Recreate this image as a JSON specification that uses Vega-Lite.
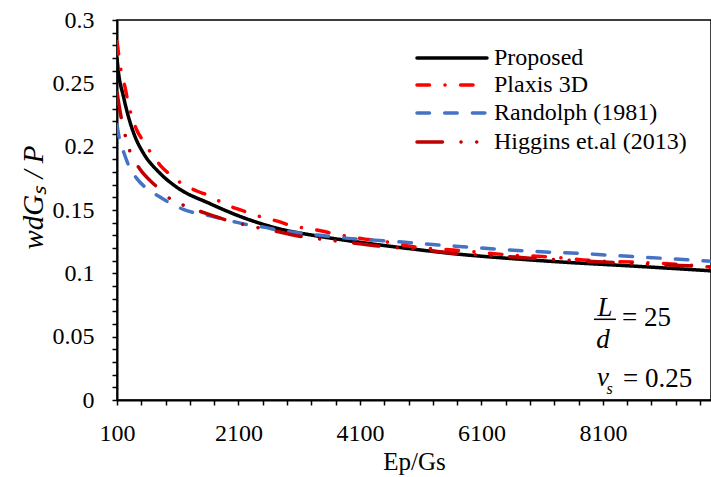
{
  "$schema": "https://vega.github.io/schema/vega-lite/v6.json",
  "width": 594,
  "height": 380,
  "autosize": "none",
  "padding": {"left": 117, "top": 20, "right": 0, "bottom": 77},
  "background": "white",
  "config": {
    "view": {"stroke": "black", "strokeWidth": 1.5}
  },
  "datasets": {
    "curves": [
      {"s": "Proposed", "x": 100, "y": 0.27},
      {"s": "Proposed", "x": 121, "y": 0.26},
      {"s": "Proposed", "x": 204, "y": 0.24},
      {"s": "Proposed", "x": 286, "y": 0.224},
      {"s": "Proposed", "x": 396, "y": 0.208},
      {"s": "Proposed", "x": 533, "y": 0.195},
      {"s": "Proposed", "x": 808, "y": 0.179},
      {"s": "Proposed", "x": 1083, "y": 0.168},
      {"s": "Proposed", "x": 1631, "y": 0.155},
      {"s": "Proposed", "x": 2235, "y": 0.143},
      {"s": "Proposed", "x": 2783, "y": 0.135},
      {"s": "Proposed", "x": 3331, "y": 0.13},
      {"s": "Proposed", "x": 4100, "y": 0.1245},
      {"s": "Proposed", "x": 5000, "y": 0.119},
      {"s": "Proposed", "x": 5746, "y": 0.115},
      {"s": "Proposed", "x": 6500, "y": 0.112},
      {"s": "Proposed", "x": 7391, "y": 0.109},
      {"s": "Proposed", "x": 8500, "y": 0.106},
      {"s": "Proposed", "x": 9880, "y": 0.102},
      {"s": "Plaxis 3D", "x": 100, "y": 0.283},
      {"s": "Plaxis 3D", "x": 166, "y": 0.26},
      {"s": "Plaxis 3D", "x": 232, "y": 0.247},
      {"s": "Plaxis 3D", "x": 286, "y": 0.234},
      {"s": "Plaxis 3D", "x": 330, "y": 0.226},
      {"s": "Plaxis 3D", "x": 413, "y": 0.2145},
      {"s": "Plaxis 3D", "x": 523, "y": 0.205},
      {"s": "Plaxis 3D", "x": 660, "y": 0.195},
      {"s": "Plaxis 3D", "x": 808, "y": 0.1855},
      {"s": "Plaxis 3D", "x": 972, "y": 0.178},
      {"s": "Plaxis 3D", "x": 1164, "y": 0.171},
      {"s": "Plaxis 3D", "x": 1412, "y": 0.165},
      {"s": "Plaxis 3D", "x": 1631, "y": 0.161},
      {"s": "Plaxis 3D", "x": 1823, "y": 0.156},
      {"s": "Plaxis 3D", "x": 2070, "y": 0.151},
      {"s": "Plaxis 3D", "x": 2261, "y": 0.148},
      {"s": "Plaxis 3D", "x": 2508, "y": 0.144},
      {"s": "Plaxis 3D", "x": 2755, "y": 0.141},
      {"s": "Plaxis 3D", "x": 2975, "y": 0.1376},
      {"s": "Plaxis 3D", "x": 3222, "y": 0.1355},
      {"s": "Plaxis 3D", "x": 3470, "y": 0.1334},
      {"s": "Plaxis 3D", "x": 3689, "y": 0.131},
      {"s": "Plaxis 3D", "x": 3936, "y": 0.129},
      {"s": "Plaxis 3D", "x": 4183, "y": 0.127},
      {"s": "Plaxis 3D", "x": 4402, "y": 0.1258},
      {"s": "Plaxis 3D", "x": 4978, "y": 0.121},
      {"s": "Plaxis 3D", "x": 5746, "y": 0.118},
      {"s": "Plaxis 3D", "x": 6569, "y": 0.1145},
      {"s": "Plaxis 3D", "x": 7277, "y": 0.1128},
      {"s": "Plaxis 3D", "x": 7940, "y": 0.110},
      {"s": "Plaxis 3D", "x": 8700, "y": 0.1087},
      {"s": "Plaxis 3D", "x": 9368, "y": 0.107},
      {"s": "Plaxis 3D", "x": 9880, "y": 0.105},
      {"s": "Randolph (1981)", "x": 100, "y": 0.217},
      {"s": "Randolph (1981)", "x": 138, "y": 0.2066},
      {"s": "Randolph (1981)", "x": 215, "y": 0.195},
      {"s": "Randolph (1981)", "x": 303, "y": 0.184},
      {"s": "Randolph (1981)", "x": 424, "y": 0.175},
      {"s": "Randolph (1981)", "x": 589, "y": 0.167},
      {"s": "Randolph (1981)", "x": 780, "y": 0.161},
      {"s": "Randolph (1981)", "x": 961, "y": 0.1558},
      {"s": "Randolph (1981)", "x": 1191, "y": 0.1505},
      {"s": "Randolph (1981)", "x": 1412, "y": 0.1474},
      {"s": "Randolph (1981)", "x": 1631, "y": 0.1455},
      {"s": "Randolph (1981)", "x": 1878, "y": 0.1426},
      {"s": "Randolph (1981)", "x": 2097, "y": 0.140},
      {"s": "Randolph (1981)", "x": 2289, "y": 0.138},
      {"s": "Randolph (1981)", "x": 2536, "y": 0.1363},
      {"s": "Randolph (1981)", "x": 2755, "y": 0.134},
      {"s": "Randolph (1981)", "x": 3000, "y": 0.1325},
      {"s": "Randolph (1981)", "x": 3222, "y": 0.131},
      {"s": "Randolph (1981)", "x": 3441, "y": 0.130},
      {"s": "Randolph (1981)", "x": 3660, "y": 0.129},
      {"s": "Randolph (1981)", "x": 3907, "y": 0.1276},
      {"s": "Randolph (1981)", "x": 4127, "y": 0.1269},
      {"s": "Randolph (1981)", "x": 4483, "y": 0.1258},
      {"s": "Randolph (1981)", "x": 4922, "y": 0.1242},
      {"s": "Randolph (1981)", "x": 5389, "y": 0.1224},
      {"s": "Randolph (1981)", "x": 5855, "y": 0.1208},
      {"s": "Randolph (1981)", "x": 6322, "y": 0.1192},
      {"s": "Randolph (1981)", "x": 6772, "y": 0.1179},
      {"s": "Randolph (1981)", "x": 7239, "y": 0.1167},
      {"s": "Randolph (1981)", "x": 7694, "y": 0.1158},
      {"s": "Randolph (1981)", "x": 8154, "y": 0.1145},
      {"s": "Randolph (1981)", "x": 8610, "y": 0.1132},
      {"s": "Randolph (1981)", "x": 9080, "y": 0.1119},
      {"s": "Randolph (1981)", "x": 9549, "y": 0.1105},
      {"s": "Randolph (1981)", "x": 9880, "y": 0.1095},
      {"s": "Higgins et.al (2013)", "x": 100, "y": 0.243},
      {"s": "Higgins et.al (2013)", "x": 177, "y": 0.221},
      {"s": "Higgins et.al (2013)", "x": 248, "y": 0.2066},
      {"s": "Higgins et.al (2013)", "x": 330, "y": 0.194},
      {"s": "Higgins et.al (2013)", "x": 467, "y": 0.183},
      {"s": "Higgins et.al (2013)", "x": 753, "y": 0.1684},
      {"s": "Higgins et.al (2013)", "x": 972, "y": 0.159},
      {"s": "Higgins et.al (2013)", "x": 1219, "y": 0.1532},
      {"s": "Higgins et.al (2013)", "x": 1466, "y": 0.149},
      {"s": "Higgins et.al (2013)", "x": 1905, "y": 0.142},
      {"s": "Higgins et.al (2013)", "x": 2152, "y": 0.139},
      {"s": "Higgins et.al (2013)", "x": 2426, "y": 0.136},
      {"s": "Higgins et.al (2013)", "x": 2673, "y": 0.1337},
      {"s": "Higgins et.al (2013)", "x": 3140, "y": 0.129},
      {"s": "Higgins et.al (2013)", "x": 3397, "y": 0.1274},
      {"s": "Higgins et.al (2013)", "x": 3660, "y": 0.1258},
      {"s": "Higgins et.al (2013)", "x": 3907, "y": 0.1245},
      {"s": "Higgins et.al (2013)", "x": 4402, "y": 0.1216},
      {"s": "Higgins et.al (2013)", "x": 5170, "y": 0.1184},
      {"s": "Higgins et.al (2013)", "x": 5636, "y": 0.1158},
      {"s": "Higgins et.al (2013)", "x": 6404, "y": 0.1137},
      {"s": "Higgins et.al (2013)", "x": 6898, "y": 0.112},
      {"s": "Higgins et.al (2013)", "x": 7668, "y": 0.110},
      {"s": "Higgins et.al (2013)", "x": 8188, "y": 0.1087},
      {"s": "Higgins et.al (2013)", "x": 8927, "y": 0.107},
      {"s": "Higgins et.al (2013)", "x": 9504, "y": 0.106},
      {"s": "Higgins et.al (2013)", "x": 9880, "y": 0.105}
    ],
    "legendLines": [
      {"s": "Proposed", "x": 5039, "x2": 6192, "y": 0.27},
      {"s": "Plaxis 3D", "x": 5039, "x2": 6000, "y": 0.2487},
      {"s": "Randolph (1981)", "x": 5039, "x2": 6192, "y": 0.2266},
      {"s": "Higgins et.al (2013)", "x": 5039, "x2": 6150, "y": 0.2037}
    ],
    "legendLabels": [
      {"t": "Proposed", "x": 6307, "y": 0.27},
      {"t": "Plaxis 3D", "x": 6307, "y": 0.2487},
      {"t": "Randolph (1981)", "x": 6307, "y": 0.2266},
      {"t": "Higgins et.al (2013)", "x": 6307, "y": 0.2037}
    ],
    "noteItalic": [
      {"t": "L", "x": 8135, "y": 0.0726},
      {"t": "d", "x": 8102, "y": 0.0474},
      {"t": "v", "x": 8102, "y": 0.0174}
    ],
    "noteSub": [
      {"t": "s", "x": 8209, "y": 0.0087}
    ],
    "notePlain": [
      {"t": "= 25", "x": 8415, "y": 0.0647},
      {"t": "= 0.25", "x": 8431, "y": 0.0166}
    ],
    "fractionBar": [
      {"x": 7953, "x2": 8315, "y": 0.0637}
    ]
  },
  "encoding": {
    "x": {
      "field": "x", "type": "quantitative",
      "scale": {"domain": [100, 9880], "nice": false, "zero": false},
      "axis": {
        "title": "Ep/Gs",
        "titleFont": "Times New Roman", "titleFontSize": 25, "titleFontWeight": "normal", "titleColor": "black",
        "values": [100,500,900,1300,1700,2100,2500,2900,3300,3700,4100,4500,4900,5300,5700,6100,6500,6900,7300,7700,8100,8500,8900,9300,9700],
        "format": "d",
        "labelExpr": "(datum.value-100)%2000==0 ? datum.label : ''",
        "labelFont": "Times New Roman", "labelFontSize": 24, "labelColor": "black", "labelPadding": 16,
        "labelOverlap": false, "labelFlush": false, "labelBound": false,
        "tickSize": 5, "tickColor": "black", "tickWidth": 1.5,
        "domainColor": "black", "domainWidth": 2, "grid": false
      }
    },
    "y": {
      "field": "y", "type": "quantitative",
      "scale": {"domain": [0, 0.3], "nice": false},
      "axis": {
        "title": "wdGₛ / P",
        "titleFont": "Times New Roman", "titleFontSize": 29, "titleFontStyle": "italic", "titleFontWeight": "normal", "titleColor": "black",
        "titleAngle": -90, "titleX": -84, "titleY": 177, "titleAlign": "center", "titleBaseline": "middle",
        "values": [0,0.01,0.02,0.03,0.04,0.05,0.06,0.07,0.08,0.09,0.1,0.11,0.12,0.13,0.14,0.15,0.16,0.17,0.18,0.19,0.2,0.21,0.22,0.23,0.24,0.25,0.26,0.27,0.28,0.29,0.3],
        "format": ".2~f",
        "labelExpr": "abs(datum.value*20 - round(datum.value*20)) < 0.001 ? datum.label : ''",
        "labelFont": "Times New Roman", "labelFontSize": 24, "labelColor": "black", "labelPadding": 18,
        "labelOverlap": false, "labelFlush": false, "labelBound": false,
        "tickSize": 5, "tickColor": "black", "tickWidth": 1.5,
        "domainColor": "black", "domainWidth": 2, "grid": false
      }
    }
  },
  "layer": [
    {
      "data": {"name": "curves"},
      "mark": {"type": "line", "strokeWidth": 3.5, "strokeCap": "round", "interpolate": "monotone", "clip": true},
      "encoding": {
        "color": {
          "field": "s", "type": "nominal",
          "scale": {"domain": ["Proposed", "Plaxis 3D", "Randolph (1981)", "Higgins et.al (2013)"], "range": ["#000000", "#FF0000", "#4472C4", "#C00000"]},
          "legend": null
        },
        "strokeDash": {
          "field": "s", "type": "nominal",
          "scale": {"domain": ["Proposed", "Plaxis 3D", "Randolph (1981)", "Higgins et.al (2013)"], "range": [[1, 0], [12.5, 15.5, 0.1, 15.5], [12.5, 15.2], [25.5, 18.5, 0.1, 15.6, 0.1, 18.5]]},
          "legend": null
        },
        "order": {"field": "x", "type": "quantitative"}
      }
    },
    {
      "data": {"name": "legendLines"},
      "mark": {"type": "rule", "strokeWidth": 3.5, "strokeCap": "round"},
      "encoding": {
        "x2": {"field": "x2"},
        "color": {"field": "s", "type": "nominal", "legend": null},
        "strokeDash": {"field": "s", "type": "nominal", "legend": null}
      }
    },
    {
      "data": {"name": "legendLabels"},
      "mark": {"type": "text", "font": "Times New Roman", "fontSize": 24, "align": "left", "baseline": "middle", "color": "black"},
      "encoding": {"text": {"field": "t"}}
    },
    {
      "data": {"name": "noteItalic"},
      "mark": {"type": "text", "font": "Times New Roman", "fontSize": 27, "fontStyle": "italic", "align": "center", "baseline": "middle", "color": "black"},
      "encoding": {"text": {"field": "t"}}
    },
    {
      "data": {"name": "noteSub"},
      "mark": {"type": "text", "font": "Times New Roman", "fontSize": 16, "fontStyle": "italic", "align": "center", "baseline": "middle", "color": "black"},
      "encoding": {"text": {"field": "t"}}
    },
    {
      "data": {"name": "notePlain"},
      "mark": {"type": "text", "font": "Times New Roman", "fontSize": 27, "align": "left", "baseline": "middle", "color": "black"},
      "encoding": {"text": {"field": "t"}}
    },
    {
      "data": {"name": "fractionBar"},
      "mark": {"type": "rule", "color": "black", "strokeWidth": 1.5},
      "encoding": {"x2": {"field": "x2"}}
    }
  ]
}
